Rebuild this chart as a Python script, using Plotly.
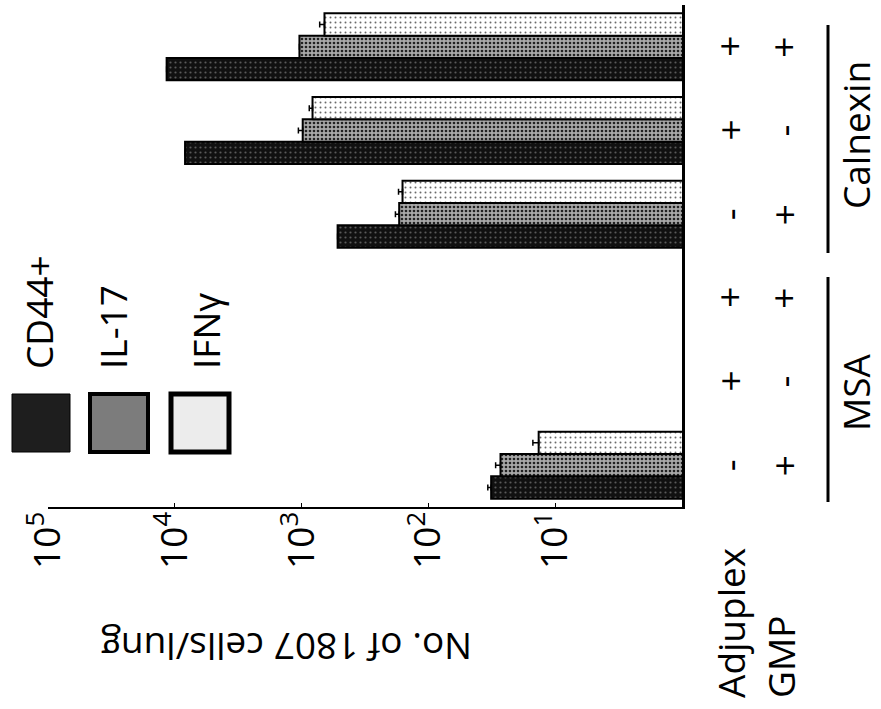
import plotly.graph_objects as go

# ---------------- data (top-to-bottom as drawn) ----------------
antigen = ["Calnexin", "Calnexin", "Calnexin", "MSA", "MSA", "MSA"]
adjuplex = ["+", "+", "-", "+", "+", "-"]
gmp = ["+", "-", "+", "+", "-", "+"]
cd44 = [11600, 8300, 520, None, None, 32]
il17 = [1040, 980, 170, None, None, 27]
ifng = [660, 820, 160, None, None, 13.5]
cd44_err = [0, 0, 0, None, None, 2]
il17_err = [0, 80, 12, None, None, 2.5]
ifng_err = [60, 50, 12, None, None, 1.5]
series_names = ["CD44+", "IL-17", "IFNγ"]
tick_vals = [1e1, 1e2, 1e3, 1e4, 1e5]
tick_text = ["10<sup>1</sup>", "10<sup>2</sup>", "10<sup>3</sup>", "10<sup>4</sup>", "10<sup>5</sup>"]
axis_title = "No. of 1807 cells/lung"
row_labels = ["Adjuplex", "GMP"]

cats = [f"{a} {p}/{g}" for a, p, g in zip(antigen, adjuplex, gmp)]

# ---------------- layout geometry (pixels) ----------------
W, H = 881, 709
L, R, T, B = 48, 682, 5, 507
FONT = "Open Sans"
FS = 37


def px(x):
    return (x - L) / (R - L)


def py(y):
    return (B - y) / (B - T)


styles = [
    dict(pattern=dict(shape=".", bgcolor="#111111", fgcolor="#5a5a5a", size=5, solidity=0.15, fillmode="replace"),
         color="#1a1a1a"),
    dict(pattern=dict(shape=".", bgcolor="#a8a8a8", fgcolor="#222222", size=4, solidity=0.35, fillmode="replace"),
         color="#707070"),
    dict(pattern=dict(shape=".", bgcolor="#ffffff", fgcolor="#6a6a6a", size=5, solidity=0.12, fillmode="replace"),
         color="#e8e8e8"),
]

fig = go.Figure()
for name, vals, errs, st in zip(series_names, [cd44, il17, ifng], [cd44_err, il17_err, ifng_err], styles):
    fig.add_trace(go.Bar(
        y=cats, x=vals, name=name, orientation="h",
        marker=dict(color=st["color"], pattern=st["pattern"], line=dict(color="#000", width=2)),
        error_x=dict(type="data", array=errs, arrayminus=[0 if e is not None else None for e in errs],
                     symmetric=False, color="#000", thickness=1.5, width=3),
        showlegend=False,
    ))

annotations = []
shapes = []

# +/- rows
for col_x, row in [(729, adjuplex), (783, gmp)]:
    for c, s in zip(cats, row):
        annotations.append(dict(x=px(col_x), xref="paper", y=c, yref="y", text=s, showarrow=False,
                                textangle=-90, font=dict(family=FONT, size=FS, color="#000"),
                                xanchor="center", yanchor="middle"))

# row labels
for lab, lx in zip(row_labels, [730, 780]):
    annotations.append(dict(x=px(lx), xref="paper", y=py(700), yref="paper", text=lab, showarrow=False,
                            textangle=-90, font=dict(family=FONT, size=FS, color="#000"),
                            xanchor="center", yanchor="bottom"))

# group brackets and labels
for gname, y0, y1, tx, ty in [("Calnexin", 25, 253, 855, 135), ("MSA", 277, 502, 855, 392)]:
    shapes.append(dict(type="line", xref="paper", yref="paper", x0=px(828), x1=px(828),
                       y0=py(y0), y1=py(y1), line=dict(color="#000", width=3)))
    annotations.append(dict(x=px(tx), xref="paper", y=py(ty), yref="paper", text=gname, showarrow=False,
                            textangle=-90, font=dict(family=FONT, size=FS, color="#000"),
                            xanchor="center", yanchor="middle"))

# axis title (upside down)
annotations.append(dict(x=px(287), xref="paper", y=py(648), yref="paper", text=axis_title, showarrow=False,
                        textangle=180, font=dict(family=FONT, size=FS, color="#000"),
                        xanchor="center", yanchor="middle"))

# manual legend
leg_fill = ["#1e1e1e", "#7c7c7c", "#ececec"]
leg_line = [1, 4, 5]
for name, sx, tx, fc, lw in zip(series_names, [12, 90, 171], [38, 112, 205], leg_fill, leg_line):
    shapes.append(dict(type="rect", xref="paper", yref="paper", x0=px(sx), x1=px(sx + 58),
                       y0=py(452), y1=py(394), fillcolor=fc, line=dict(color="#000", width=lw)))
    annotations.append(dict(x=px(tx), xref="paper", y=py(371), yref="paper", text=name, showarrow=False,
                            textangle=-90, font=dict(family=FONT, size=FS, color="#000"),
                            xanchor="center", yanchor="bottom"))

fig.update_layout(
    width=W, height=H,
    margin=dict(l=L, r=W - R, t=T, b=H - B, pad=0),
    paper_bgcolor="white", plot_bgcolor="white",
    barmode="group", bargap=0.2, bargroupgap=0,
    font=dict(family=FONT, size=FS, color="#000"),
    xaxis=dict(type="log", range=[5, 0], tickvals=tick_vals, ticktext=tick_text, tickangle=-90,
               showline=True, linecolor="#000", linewidth=2, ticks="inside", ticklen=4,
               ticklabelstandoff=-12,
               tickcolor="#000", showgrid=False, zeroline=False,
               tickfont=dict(family=FONT, size=FS, color="#000")),
    yaxis=dict(type="category", categoryorder="array", categoryarray=list(reversed(cats)),
               range=[-0.5, 5.5], showticklabels=False, showline=True, side="right",
               linecolor="#000", linewidth=3, ticks="", showgrid=False, zeroline=False),
    annotations=annotations, shapes=shapes,
)

fig.write_html("out.html")
